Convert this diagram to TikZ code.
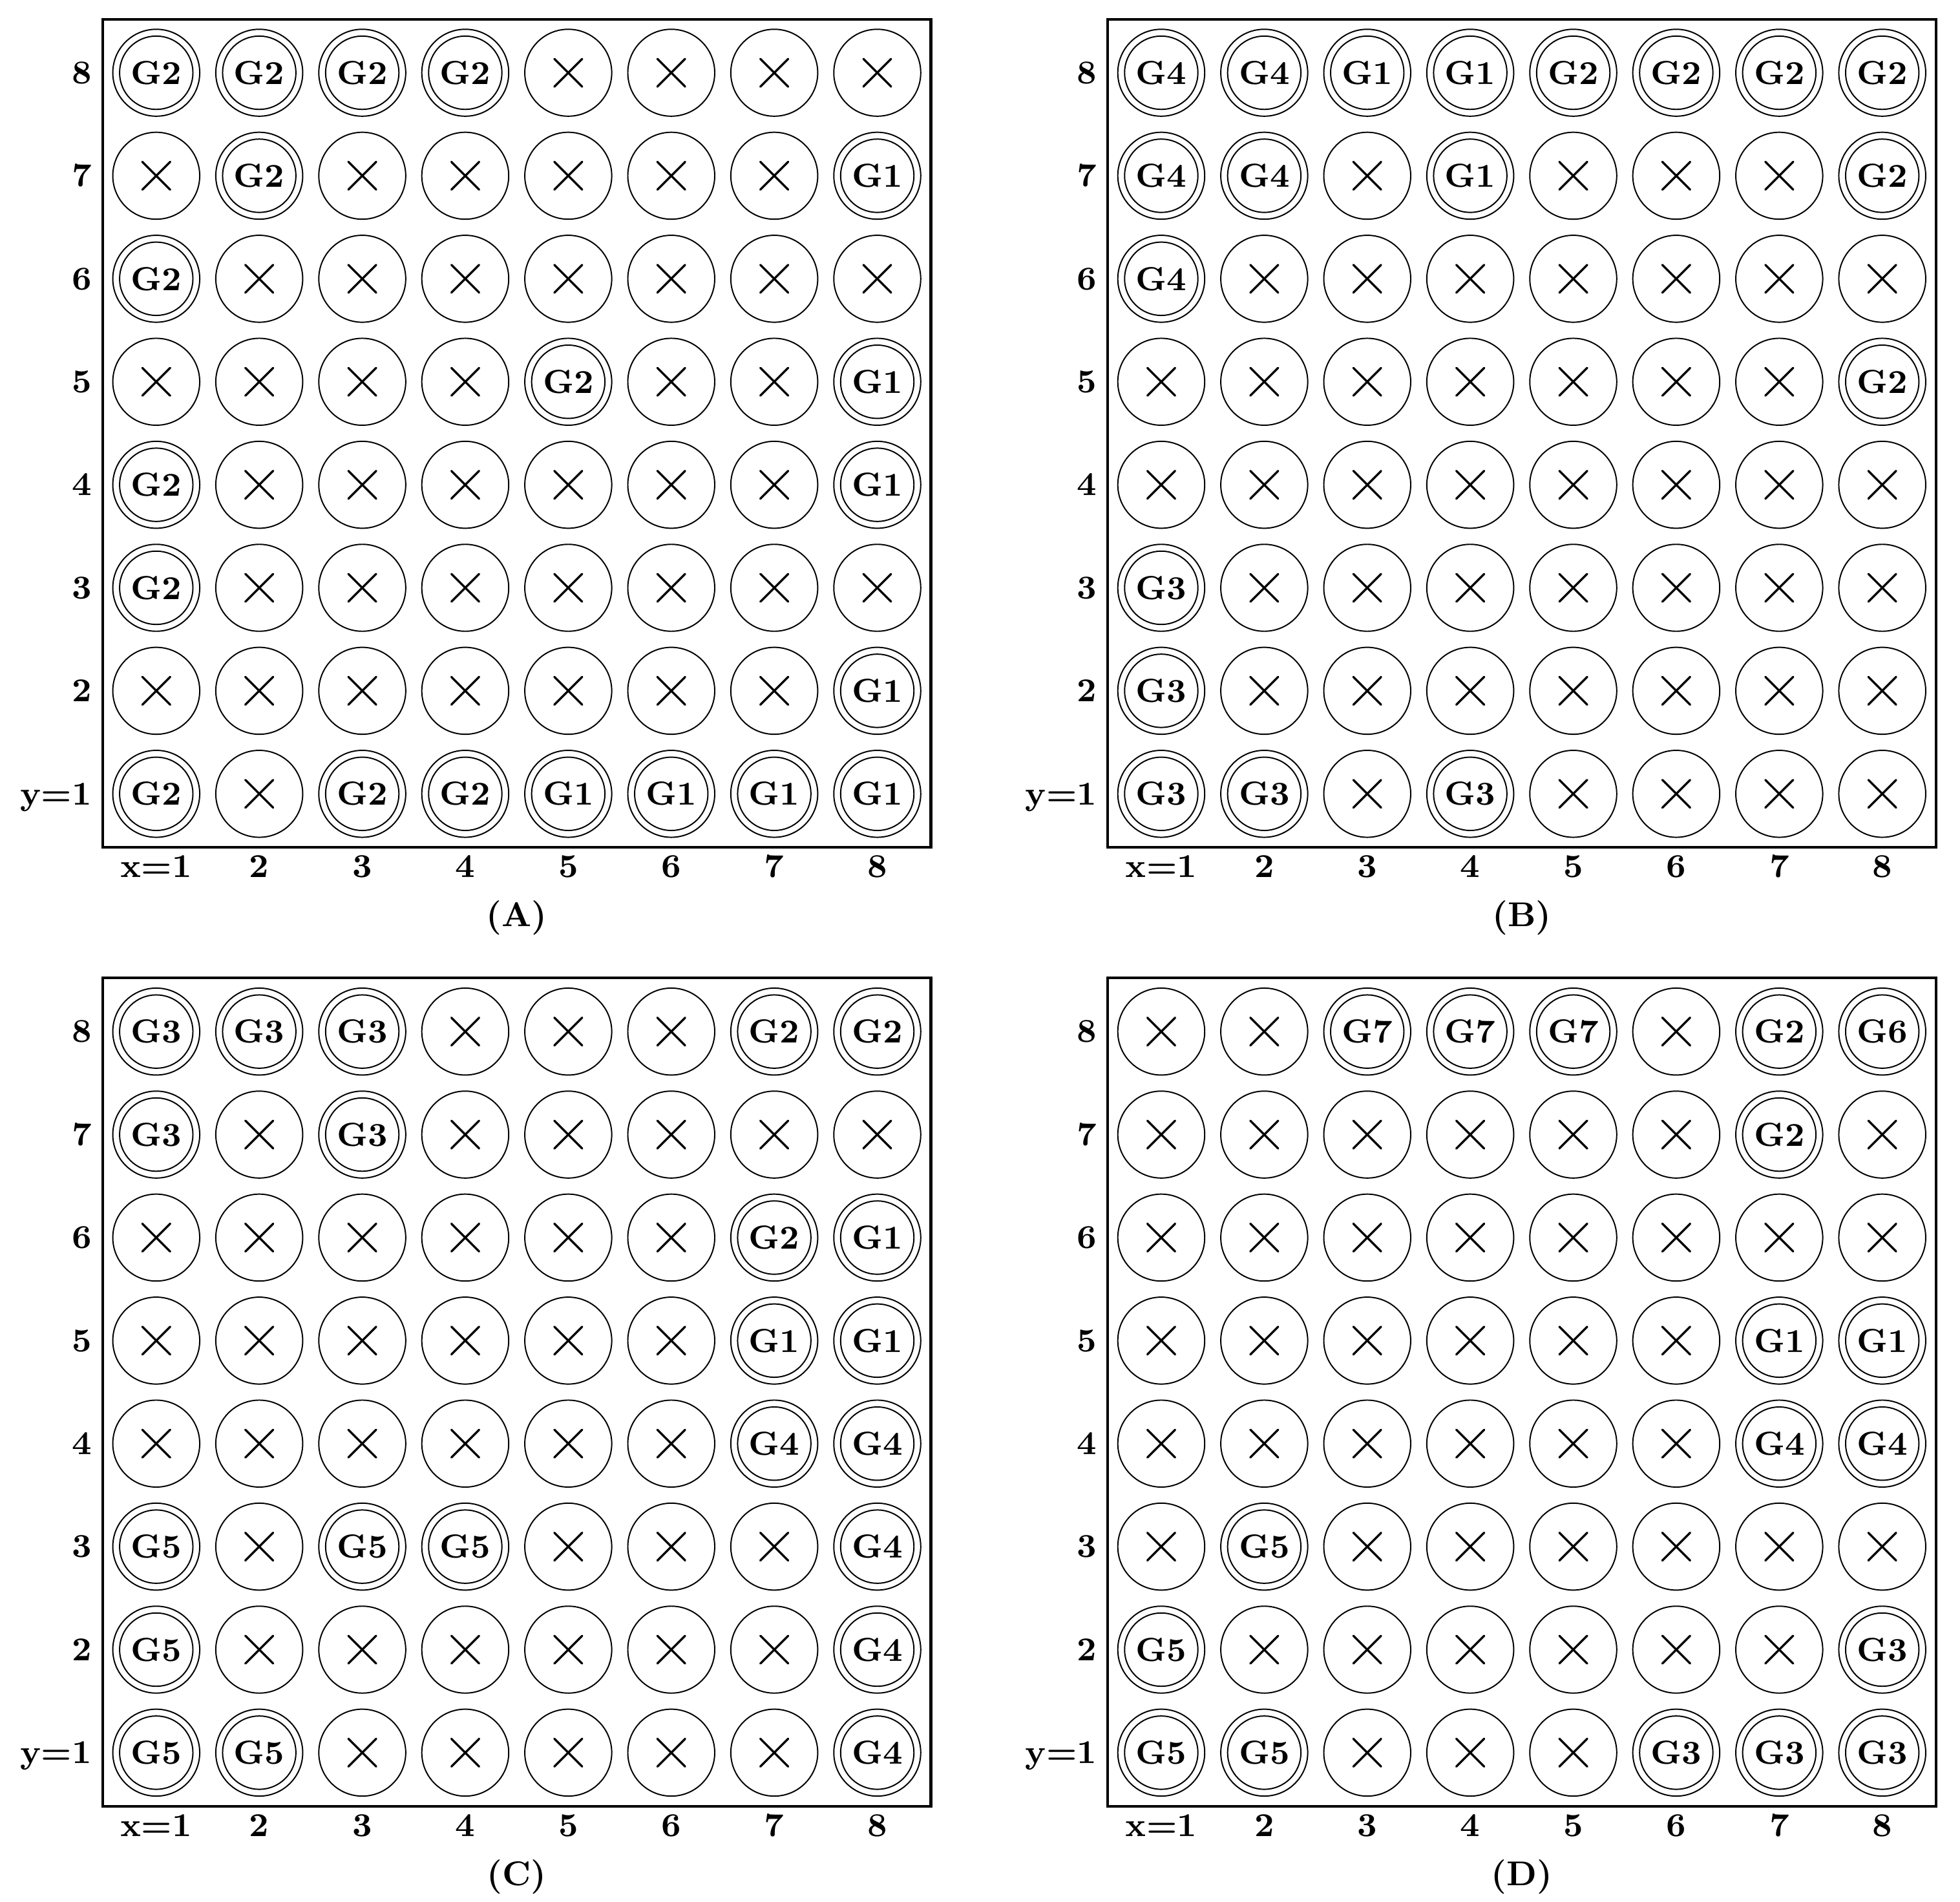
\documentclass[tikz,border=0pt]{standalone}
\tikzset{
  cellout/.style={circle, draw, line width=0.35pt, inner sep=0pt, minimum size=0.844cm},
  cellin/.style={circle, draw, line width=0.35pt, inner sep=0pt, minimum size=0.712cm,
    font=\fontsize{9.2}{10}\selectfont\bfseries},
  xmark/.style={line width=0.6pt, line cap=round},
  panelframe/.style={draw, line width=0.75pt, inner sep=0pt, minimum width=8.04cm, minimum height=8.04cm},
  lab/.style={inner sep=0pt, font=\fontsize{9.2}{10}\selectfont\bfseries},
  caplab/.style={inner sep=0pt, font=\fontsize{9.5}{11}\selectfont\bfseries},
}
% #1 name, #2 x of column 1, #3 y of row 1, #4 rows 8..1 (0 = cross)
\newcommand\drawpanel[4]{%
  \node[panelframe] (#1-frame) at (#2+3.5,#3+3.5) {};
  \foreach \rowdata [count=\k] in {#4} {
    \pgfmathtruncatemacro\rr{9-\k}
    \foreach \v [count=\c] in \rowdata {
      \node[cellout] (#1-\c-\rr) at (#2+\c-1,#3+\rr-1) {};
      \ifnum\v=0
        \draw[xmark] ([shift={(-0.135,-0.135)}]#1-\c-\rr.center) -- ([shift={(0.135,0.135)}]#1-\c-\rr.center);
        \draw[xmark] ([shift={(-0.135,0.135)}]#1-\c-\rr.center) -- ([shift={(0.135,-0.135)}]#1-\c-\rr.center);
      \else
        \node[cellin] (#1-\c-\rr-g) at (#1-\c-\rr) {G\v};
      \fi
    }
  }
  \node[lab, anchor=base east] (#1-ylab-1) at (#2-0.62,#3-0.105) {y=1};
  \foreach \r in {2,...,8} {
    \node[lab, anchor=base east] (#1-ylab-\r) at (#2-0.62,#3+\r-1-0.105) {\r};
  }
  \node[lab, anchor=base] (#1-xlab-1) at (#2,#3-0.81) {x=1};
  \foreach \c in {2,...,8} {
    \node[lab, anchor=base] (#1-xlab-\c) at (#2+\c-1,#3-0.81) {\c};
  }
  \node[caplab, anchor=base] (#1-cap) at (#2+3.5,#3-1.29) {(#1)};
}
\begin{document}
\begin{tikzpicture}
\useasboundingbox (0,0) rectangle (19.029,-18.459);
\drawpanel{A}{1.517}{-7.706}{
  {2,2,2,2,0,0,0,0},
  {0,2,0,0,0,0,0,1},
  {2,0,0,0,0,0,0,0},
  {0,0,0,0,2,0,0,1},
  {2,0,0,0,0,0,0,1},
  {2,0,0,0,0,0,0,0},
  {0,0,0,0,0,0,0,1},
  {2,0,2,2,1,1,1,1}}
\drawpanel{B}{11.274}{-7.706}{
  {4,4,1,1,2,2,2,2},
  {4,4,0,1,0,0,0,2},
  {4,0,0,0,0,0,0,0},
  {0,0,0,0,0,0,0,2},
  {0,0,0,0,0,0,0,0},
  {3,0,0,0,0,0,0,0},
  {3,0,0,0,0,0,0,0},
  {3,3,0,3,0,0,0,0}}
\drawpanel{C}{1.517}{-17.014}{
  {3,3,3,0,0,0,2,2},
  {3,0,3,0,0,0,0,0},
  {0,0,0,0,0,0,2,1},
  {0,0,0,0,0,0,1,1},
  {0,0,0,0,0,0,4,4},
  {5,0,5,5,0,0,0,4},
  {5,0,0,0,0,0,0,4},
  {5,5,0,0,0,0,0,4}}
\drawpanel{D}{11.274}{-17.014}{
  {0,0,7,7,7,0,2,6},
  {0,0,0,0,0,0,2,0},
  {0,0,0,0,0,0,0,0},
  {0,0,0,0,0,0,1,1},
  {0,0,0,0,0,0,4,4},
  {0,5,0,0,0,0,0,0},
  {5,0,0,0,0,0,0,3},
  {5,5,0,0,0,3,3,3}}
\end{tikzpicture}
\end{document}
